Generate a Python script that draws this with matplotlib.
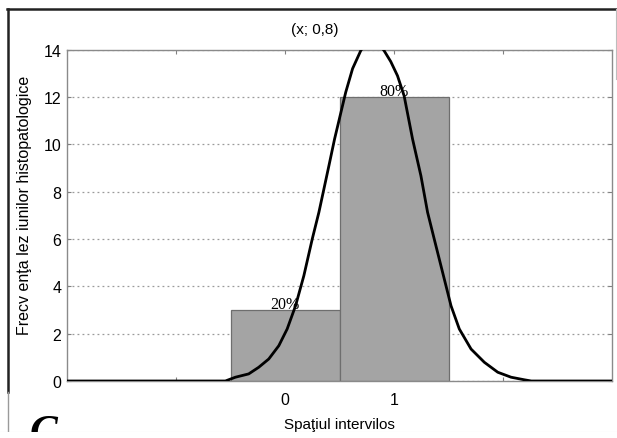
import matplotlib
matplotlib.use("Agg")
import matplotlib.pyplot as plt
from matplotlib.lines import Line2D
from matplotlib.patches import Rectangle

# Histogram of interval positions
categories = [0, 1]
counts = [3, 12]
bar_labels = ["20%", "80%"]

# Fitted density curve (x, frequency)
curve_x = [-2.0, -0.547, -0.455, -0.333, -0.241, -0.149, -0.057, 0.020, 0.097,
           0.173, 0.250, 0.311, 0.403, 0.455, 0.557, 0.62, 0.695, 0.745, 0.80,
           0.855, 0.909, 0.97, 1.032, 1.093, 1.170, 1.247, 1.308, 1.369, 1.446,
           1.523, 1.599, 1.707, 1.829, 1.952, 2.074, 2.197, 2.26, 3.0]
curve_y = [0.0, 0.0, 0.16, 0.30, 0.58, 0.93, 1.49, 2.20, 3.18,
           4.45, 6.00, 7.13, 9.10, 10.23, 12.20, 13.20, 13.96, 14.30, 14.40,
           14.30, 13.96, 13.50, 12.90, 12.05, 10.23, 8.67, 7.13, 6.00, 4.59,
           3.18, 2.20, 1.35, 0.79, 0.37, 0.16, 0.05, 0.0, 0.0]

xtick_pos = [-1, 0, 1, 2]
xtick_labels = ["", "0", "1", ""]
ytick_pos = [0, 2, 4, 6, 8, 10, 12, 14]

plt.rcParams["font.family"] = ["Liberation Sans", "DejaVu Sans"]

W, H = 617, 439
fig = plt.figure(figsize=(W / 100, H / 100), dpi=100)
ax = fig.add_axes([67 / W, 57 / H, 545 / W, 331.3 / H])

ax.set_axisbelow(True)
ax.yaxis.grid(True, linestyle=(0, (1.5, 2.5)), color="#9a9a9a", linewidth=0.9)

ax.bar(categories, counts, width=1.0, color="#a4a4a4", edgecolor="#6e6e6e",
       linewidth=0.9, zorder=2)
for c, v, lab in zip(categories, counts, bar_labels):
    ax.text(c, v - 0.08, lab, ha="center", va="bottom", fontsize=11.5,
            family=["Liberation Serif", "DejaVu Serif"], zorder=4)

ax.plot(curve_x, curve_y, color="black", linewidth=2.0, zorder=3,
        solid_joinstyle="round")

ax.set_xlim(-2, 3)
ax.set_ylim(0, 14)
ax.set_xticks(xtick_pos)
ax.set_xticklabels(xtick_labels)
ax.set_yticks(ytick_pos)
ax.tick_params(direction="in", length=3, width=0.8, color="#808080",
               labelsize=11.5, top=True, right=True)
ax.tick_params(axis="x", pad=8)
ax.tick_params(axis="y", pad=4)
for s in ax.spines.values():
    s.set_color("#8a8a8a")
    s.set_linewidth(1.0)

ax.set_xlabel("Spaţiul intervilos", fontsize=11, labelpad=7)
ax.set_ylabel("Frecv enţa lez iunilor histopatologice", fontsize=11.5)
ax.yaxis.set_label_coords(-0.064, 0.534)

fig.text(315 / W, 1 - 30 / H, "(x; 0,8)", ha="center", va="center", fontsize=11)

# Panel letter
fig.text(30 / W, -0.012, "C", fontsize=30, fontweight="bold", fontstyle="italic",
         family=["Liberation Serif", "DejaVu Serif"], ha="left", va="baseline")
fig.patches.append(Rectangle((0, 0), 1, 6 / H, transform=fig.transFigure,
                             facecolor="white", edgecolor="none", zorder=5))

# Panel frame
fig.add_artist(Line2D([7 / W, 1], [1 - 9.5 / H, 1 - 9.5 / H], color="#222222",
                      linewidth=1.8, transform=fig.transFigure))
fig.add_artist(Line2D([7.5 / W, 7.5 / W], [1 - 9.5 / H, 1 - 393 / H], color="#222222",
                      linewidth=1.8, transform=fig.transFigure))
fig.add_artist(Line2D([7.5 / W, 7.5 / W], [1 - 393 / H, 0], color="#9a9a9a",
                      linewidth=1.0, transform=fig.transFigure))
fig.add_artist(Line2D([0, 1], [1 - 433 / H, 1 - 433 / H], color="#e2e2e2",
                      linewidth=0.8, transform=fig.transFigure))
fig.add_artist(Line2D([616 / W, 616 / W], [1 - 9.5 / H, 1 - 80 / H], color="#bdbdbd",
                      linewidth=0.8, transform=fig.transFigure))

fig.savefig("out.png", dpi=100)
